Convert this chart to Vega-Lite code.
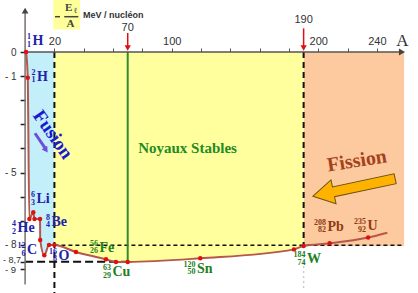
{
  "$schema": "https://vega.github.io/schema/vega-lite/v6.json",
  "width": 418,
  "height": 293,
  "autosize": {"type": "none"},
  "padding": 0,
  "background": "#ffffff",
  "config": {"view": {"stroke": null}},
  "datasets": {
    "curve": [
      {"A": 0.7, "E": 0, "dot": 1},
      {"A": 1.8, "E": -1.07, "dot": 1},
      {"A": 2.9, "E": -6.93, "dot": 1},
      {"A": 5.6, "E": -6.65, "dot": 1},
      {"A": 6.4, "E": -6.93, "dot": 1},
      {"A": 10.2, "E": -6.93, "dot": 1},
      {"A": 10.3, "E": -7.8, "dot": 1},
      {"A": 13.1, "E": -8.43, "dot": 1},
      {"A": 16.3, "E": -8.01, "dot": 1},
      {"A": 20, "E": -8.01, "dot": 1},
      {"A": 34.7, "E": -8.3, "dot": 1},
      {"A": 55.2, "E": -8.6, "dot": 1},
      {"A": 62, "E": -8.71, "dot": 1},
      {"A": 70, "E": -8.71, "dot": 1},
      {"A": 119.5, "E": -8.56, "dot": 1},
      {"A": 183.4, "E": -8.19, "dot": 1},
      {"A": 190, "E": -8.05, "dot": 1},
      {"A": 207.8, "E": -7.94, "dot": 1},
      {"A": 234, "E": -7.7, "dot": 1},
      {"A": 247.1, "E": -7.5, "dot": 0}
    ],
    "nuclides": [
      {"A": 4.37, "E": 0.456, "m": "1", "z": "1", "s": "H", "famille": "léger"},
      {"A": 7.44, "E": -1.037, "m": "2", "z": "1", "s": "H", "famille": "léger"},
      {"A": 7.09, "E": -6.1, "m": "6", "z": "3", "s": "Li", "famille": "léger"},
      {"A": -5.87, "E": -7.32, "m": "4", "z": "2", "s": "He", "famille": "léger"},
      {"A": 17.33, "E": -7.05, "m": "8", "z": "4", "s": "Be", "famille": "léger"},
      {"A": 0.61, "E": -8.22, "m": "12", "z": "6", "s": "C", "famille": "léger"},
      {"A": 22.1, "E": -8.46, "m": "16", "z": "8", "s": "O", "famille": "léger"},
      {"A": 50.07, "E": -8.13, "m": "56", "z": "26", "s": "Fe", "famille": "moyen"},
      {"A": 58.94, "E": -9.13, "m": "63", "z": "29", "s": "Cu", "famille": "moyen"},
      {"A": 116.6, "E": -9.0, "m": "120", "z": "50", "s": "Sn", "famille": "moyen"},
      {"A": 191.6, "E": -8.59, "m": "184", "z": "74", "s": "W", "famille": "moyen"},
      {"A": 205.6, "E": -7.26, "m": "208", "z": "82", "s": "Pb", "famille": "lourd"},
      {"A": 232.9, "E": -7.22, "m": "235", "z": "92", "s": "U", "famille": "lourd"}
    ]
  },
  "encoding": {
    "x": {
      "field": "A", "type": "quantitative",
      "scale": {"domain": [-17.12, 268.02], "nice": false, "zero": false},
      "axis": {
        "orient": "top", "offset": -52, "title": null, "domain": false, "grid": false,
        "values": [20, 40, 60, 80, 100, 120, 140, 160, 180, 200, 220, 240],
        "tickSize": 4, "tickColor": "#555555", "tickWidth": 1,
        "labelExpr": "indexof([20,100,200,240], datum.value) >= 0 ? datum.label : ''",
        "labelFont": "Liberation Sans", "labelFontSize": 11, "labelColor": "#333333",
        "labelPadding": 2, "labelOverlap": false, "labelFlush": false
      }
    },
    "y": {
      "field": "E", "type": "quantitative",
      "scale": {"domain": [-10, 2.158], "nice": false, "zero": false},
      "axis": {
        "orient": "left", "offset": -25.1, "title": null, "domain": false, "grid": false,
        "values": [0, -1, -2, -3, -4, -5, -6, -7, -8, -8.7, -9],
        "tickSize": 5, "tickColor": "#222222", "tickWidth": 1.5,
        "labelExpr": "indexof([0,-1,-5,-8], datum.value) >= 0 ? (datum.value == 0 ? '0' : '- ' + format(-datum.value, 'd')) : ''",
        "labelFont": "Liberation Sans", "labelFontSize": 10, "labelColor": "#333333",
        "labelPadding": 4, "labelOverlap": false, "labelFlush": false
      }
    }
  },
  "layer": [
    {
      "data": {"values": [{"A": 190, "A2": 258.5, "E": 0, "E2": -8.05}]},
      "mark": {"type": "rect", "fill": "#fdc99e"},
      "encoding": {"x2": {"field": "A2"}, "y2": {"field": "E2"}}
    },
    {
      "data": {"name": "curve"},
      "transform": [{"filter": "datum.A <= 20"}],
      "mark": {"type": "area", "fill": "#c3effb", "interpolate": "monotone"},
      "encoding": {"y2": {"datum": 0}}
    },
    {
      "data": {"name": "curve"},
      "transform": [{"filter": "datum.A >= 20 && datum.A <= 190"}],
      "mark": {"type": "area", "fill": "#ffff9e", "interpolate": "monotone"},
      "encoding": {"y2": {"datum": 0}}
    },
    {
      "data": {"values": [{"A": 19.2, "A2": 37.4, "E": 2.16, "E2": 0.94}]},
      "mark": {"type": "rect", "fill": "#ffff99"},
      "encoding": {"x2": {"field": "A2"}, "y2": {"field": "E2"}}
    },
    {
      "data": {"values": [{"A": 20, "E": 0, "E2": -10}, {"A": 190, "E": 0, "E2": -8.05}]},
      "mark": {"type": "rule", "stroke": "#111111", "strokeWidth": 2, "strokeDash": [6, 4]},
      "encoding": {"y2": {"field": "E2"}}
    },
    {
      "data": {"values": [{"A": 190, "E": -8.05, "E2": -9.8}]},
      "mark": {"type": "rule", "stroke": "#cccccc", "strokeWidth": 1.5, "strokeDash": [2, 3]},
      "encoding": {"y2": {"field": "E2"}}
    },
    {
      "data": {"values": [{"A": 20, "A2": 258.5, "E": -8.02}]},
      "mark": {"type": "rule", "stroke": "#111111", "strokeWidth": 1.5, "strokeDash": [4, 3]},
      "encoding": {"x2": {"field": "A2"}}
    },
    {
      "data": {"values": [{"A": 0, "A2": 70, "E": -8.7}]},
      "mark": {"type": "rule", "stroke": "#111111", "strokeWidth": 2, "strokeDash": [8, 4]},
      "encoding": {"x2": {"field": "A2"}}
    },
    {
      "data": {"values": [{"A": 70, "E": 0, "E2": -8.71}]},
      "mark": {"type": "rule", "stroke": "#2e8b2e", "strokeWidth": 2},
      "encoding": {"y2": {"field": "E2"}}
    },
    {
      "data": {"values": [{"A": 0, "A2": 256, "E": 0}]},
      "mark": {"type": "rule", "stroke": "#555555", "strokeWidth": 1.5},
      "encoding": {"x2": {"field": "A2"}}
    },
    {
      "data": {"values": [{"A": 0, "E": 1.72, "E2": -9.65}]},
      "mark": {"type": "rule", "stroke": "#7a7070", "strokeWidth": 1.5},
      "encoding": {"y2": {"field": "E2"}}
    },
    {
      "data": {"values": [{"A": 257.1, "E": 0}]},
      "mark": {"type": "point", "shape": "triangle-right", "size": 50, "filled": true, "fill": "#444444", "stroke": null, "opacity": 1},
      "encoding": {}
    },
    {
      "data": {"values": [{"A": 0, "E": 1.72}]},
      "mark": {"type": "point", "shape": "triangle-up", "size": 45, "filled": true, "fill": "#444444", "stroke": null, "opacity": 1},
      "encoding": {}
    },
    {
      "data": {"values": [{"A": 70, "E": 0.79, "E2": 0.25}, {"A": 190, "E": 0.98, "E2": 0.25}]},
      "mark": {"type": "rule", "stroke": "#dd1111", "strokeWidth": 1.5},
      "encoding": {"y2": {"field": "E2"}}
    },
    {
      "data": {"values": [{"A": 70, "E": 0.17}, {"A": 190, "E": 0.17}]},
      "mark": {"type": "point", "shape": "triangle-down", "size": 40, "filled": true, "fill": "#dd1111", "stroke": null, "opacity": 1},
      "encoding": {}
    },
    {
      "data": {"name": "curve"},
      "mark": {"type": "line", "stroke": "#b5574b", "strokeWidth": 2, "interpolate": "monotone"},
      "encoding": {}
    },
    {
      "data": {"name": "curve"},
      "transform": [{"filter": "datum.dot == 1"}],
      "mark": {"type": "circle", "size": 20, "fill": "#e01010", "opacity": 1},
      "encoding": {}
    },
    {
      "data": {"values": [{"A": 6.75, "E": -3.37, "A2": 14.0, "E2": -4.02}]},
      "mark": {"type": "rule", "stroke": "#6f4fd6", "strokeWidth": 3},
      "encoding": {"x2": {"field": "A2"}, "y2": {"field": "E2"}}
    },
    {
      "data": {"values": [{"A": 14.3, "E": -4.07}]},
      "mark": {"type": "point", "shape": "triangle-up", "size": 45, "angle": 146, "filled": true, "fill": "#6f4fd6", "stroke": null, "opacity": 1},
      "encoding": {}
    },
    {
      "data": {"values": [{"A": 224.4, "E": -5.62}]},
      "mark": {"type": "point", "shape": "M -1 0 L -0.5 -0.29 L -0.5 -0.12 L 1 -0.12 L 1 0.12 L -0.5 0.12 L -0.5 0.29 Z", "size": 7056, "angle": 348, "filled": true, "fill": "#ffb300", "stroke": "#6b5410", "strokeWidth": 1, "opacity": 1},
      "encoding": {}
    },
    {
      "data": {"values": [{"A": 20.4, "A2": 23.8, "E": 1.465}, {"A": 26.7, "A2": 36.3, "E": 1.465}]},
      "mark": {"type": "rule", "stroke": "#444444", "strokeWidth": 1.5},
      "encoding": {"x2": {"field": "A2"}}
    },
    {
      "data": {"values": [{"A": 29.8, "E": 1.826, "t": "E"}, {"A": 31.0, "E": 1.162, "t": "A"}]},
      "mark": {"type": "text", "font": "Liberation Serif", "fontWeight": "bold", "fontSize": 11, "fill": "#444444", "align": "center", "baseline": "middle"},
      "encoding": {"text": {"field": "t"}}
    },
    {
      "data": {"values": [{"A": 34.2, "E": 1.72, "t": "ℓ"}]},
      "mark": {"type": "text", "font": "Liberation Serif", "fontWeight": "bold", "fontSize": 8, "fill": "#444444", "align": "center", "baseline": "middle"},
      "encoding": {"text": {"field": "t"}}
    },
    {
      "data": {"values": [{"A": 39.5, "E": 1.515, "t": "MeV / nucléon"}]},
      "mark": {"type": "text", "font": "Liberation Sans", "fontWeight": "bold", "fontSize": 9, "fill": "#333333", "align": "left", "baseline": "middle"},
      "encoding": {"text": {"field": "t"}}
    },
    {
      "data": {"values": [{"A": 70, "E": 0.98, "t": "70"}, {"A": 190, "E": 1.31, "t": "190"}]},
      "mark": {"type": "text", "font": "Liberation Sans", "fontSize": 11, "fill": "#333333", "align": "center", "baseline": "middle"},
      "encoding": {"text": {"field": "t"}}
    },
    {
      "data": {"values": [{"A": -2.8, "E": -8.7, "t": "- 8,7"}]},
      "mark": {"type": "text", "font": "Liberation Sans", "fontSize": 9, "dy": -2, "fill": "#333333", "align": "right", "baseline": "middle"},
      "encoding": {"text": {"field": "t"}}
    },
    {
      "data": {"values": [{"A": -6.14, "E": -9, "t": "- 9"}]},
      "mark": {"type": "text", "font": "Liberation Sans", "fontSize": 9.5, "dy": 1.5, "fill": "#333333", "align": "right", "baseline": "middle"},
      "encoding": {"text": {"field": "t"}}
    },
    {
      "data": {"values": [{"A": 257.4, "E": 0.456, "t": "A"}]},
      "mark": {"type": "text", "font": "Liberation Serif", "fontSize": 17, "fill": "#333333", "align": "center", "baseline": "middle"},
      "encoding": {"text": {"field": "t"}}
    },
    {
      "data": {"values": [{"A": 19.0, "E": -3.42, "t": "Fusion"}]},
      "mark": {"type": "text", "font": "Liberation Serif", "fontWeight": "bold", "fontSize": 19, "angle": 55, "fill": "#1a1ad0", "align": "center", "baseline": "middle"},
      "encoding": {"text": {"field": "t"}}
    },
    {
      "data": {"values": [{"A": 110.8, "E": -4.0, "t": "Noyaux Stables"}]},
      "mark": {"type": "text", "font": "Liberation Serif", "fontWeight": "bold", "fontSize": 15, "fill": "#238b23", "align": "center", "baseline": "middle"},
      "encoding": {"text": {"field": "t"}}
    },
    {
      "data": {"values": [{"A": 226.4, "E": -4.52, "t": "Fission"}]},
      "mark": {"type": "text", "font": "Liberation Serif", "fontWeight": "bold", "fontSize": 20, "angle": 351, "fill": "#a5421c", "align": "center", "baseline": "middle"},
      "encoding": {"text": {"field": "t"}}
    },
    {
      "data": {"name": "nuclides"},
      "mark": {"type": "text", "font": "Liberation Serif", "fontWeight": "bold", "fontSize": 14, "align": "left", "baseline": "middle", "dx": 1},
      "encoding": {
        "text": {"field": "s"},
        "color": {"field": "famille", "type": "nominal", "scale": {"domain": ["léger", "moyen", "lourd"], "range": ["#2222aa", "#1f7f1f", "#8e3b14"]}, "legend": null}
      }
    },
    {
      "data": {"name": "nuclides"},
      "mark": {"type": "text", "font": "Liberation Serif", "fontWeight": "bold", "fontSize": 8, "align": "right", "baseline": "middle", "dx": -0.5, "dy": -4},
      "encoding": {
        "text": {"field": "m"},
        "color": {"field": "famille", "type": "nominal", "scale": {"domain": ["léger", "moyen", "lourd"], "range": ["#2222aa", "#1f7f1f", "#8e3b14"]}, "legend": null}
      }
    },
    {
      "data": {"name": "nuclides"},
      "mark": {"type": "text", "font": "Liberation Serif", "fontWeight": "bold", "fontSize": 8, "align": "right", "baseline": "middle", "dx": -0.5, "dy": 3.5},
      "encoding": {
        "text": {"field": "z"},
        "color": {"field": "famille", "type": "nominal", "scale": {"domain": ["léger", "moyen", "lourd"], "range": ["#2222aa", "#1f7f1f", "#8e3b14"]}, "legend": null}
      }
    }
  ]
}
